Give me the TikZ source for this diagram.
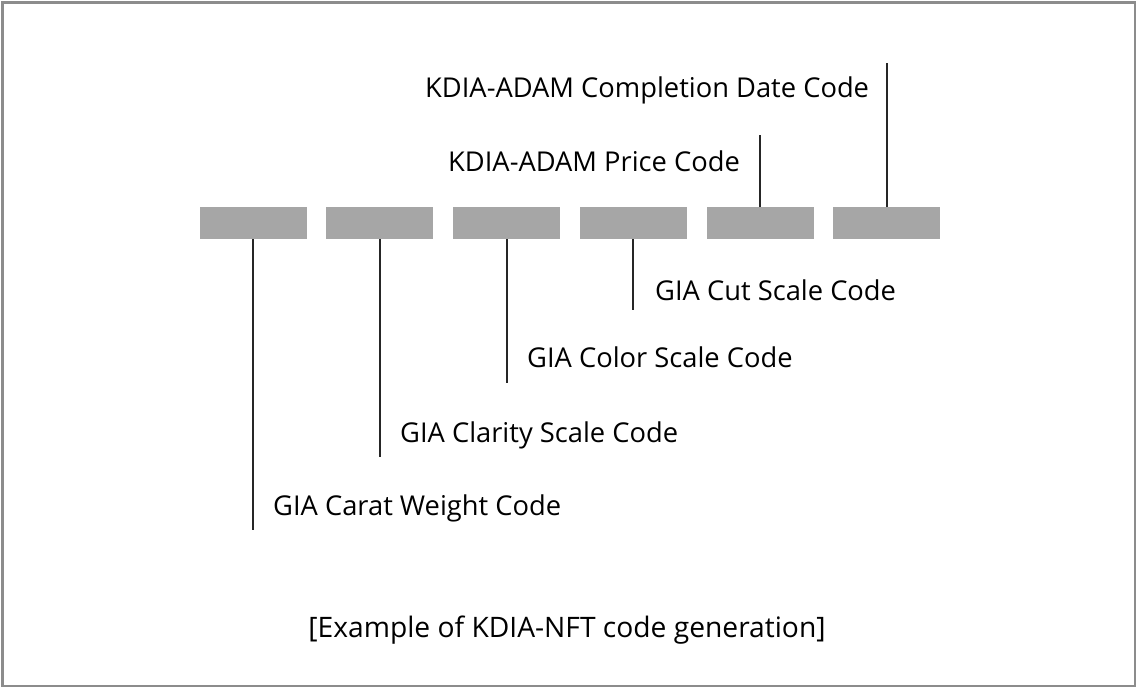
\documentclass[tikz,border=0pt]{standalone}
\usepackage{fontspec}
\setmainfont{Open Sans}
\begin{document}
\begin{tikzpicture}[x=1pt,y=-1pt,
  codebox/.style={fill=boxgray,draw=none,minimum width=107pt,minimum height=32pt,inner sep=0pt,anchor=north west},
  lead/.style={line width=1.2pt,draw=black!85},
  lbl/.style={anchor=west,inner sep=0pt,font=\fontsize{27.3}{32}\selectfont}]
\definecolor{boxgray}{HTML}{A6A6A6}
\useasboundingbox (0,0) rectangle (1137,687);
\draw[line width=2.5pt,draw=gray!90] (2.5,2.5) rectangle (1135,686);
\node[codebox] (b1) at (200,207) {};
\node[codebox] (b2) at (326,207) {};
\node[codebox] (b3) at (453,207) {};
\node[codebox] (b4) at (580,207) {};
\node[codebox] (b5) at (707,207) {};
\node[codebox] (b6) at (833,207) {};
\coordinate (e1) at (253,530);
\coordinate (e2) at (380,457);
\coordinate (e3) at (507,383);
\coordinate (e4) at (633,310);
\coordinate (e5) at (760,135);
\coordinate (e6) at (887,63);
\draw[lead] (b1.south -| e1) -- (e1);
\draw[lead] (b2.south -| e2) -- (e2);
\draw[lead] (b3.south -| e3) -- (e3);
\draw[lead] (b4.south -| e4) -- (e4);
\draw[lead] (b5.north -| e5) -- (e5);
\draw[lead] (b6.north -| e6) -- (e6);
\node[lbl] (t6) at (425,90) {KDIA-ADAM Completion Date Code};
\node[lbl] (t5) at (448,161) {KDIA-ADAM Price Code};
\node[lbl] (t4) at (655,290) {GIA Cut Scale Code};
\node[lbl] (t3) at (527,357) {GIA Color Scale Code};
\node[lbl] (t2) at (400,435) {GIA Clarity Scale Code};
\node[lbl] (t1) at (273,508) {GIA Carat Weight Code};
\node[font=\fontsize{28.2}{33}\selectfont,inner sep=0pt] (cap) at (567,630) {[Example of KDIA-NFT code generation]};
\end{tikzpicture}
\end{document}
